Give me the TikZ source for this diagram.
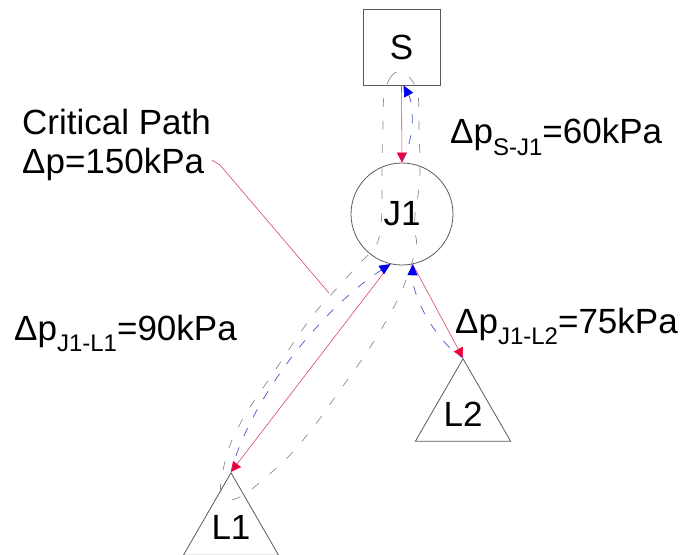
\documentclass[tikz,border=0pt]{standalone}
\usepackage{fontspec}
\setmainfont{Liberation Sans}
\usetikzlibrary{arrows.meta,shapes.geometric,calc}
\definecolor{redline}{RGB}{215,70,100}
\definecolor{redtip}{RGB}{240,0,60}
\definecolor{bluetip}{RGB}{0,0,235}
\definecolor{bluedash}{RGB}{80,80,200}
\definecolor{graydash}{RGB}{140,140,140}
\definecolor{outline}{RGB}{90,90,90}
\newcommand{\sbs}[2]{\raisebox{#1}{\fontsize{24}{24}\selectfont #2}}
\begin{document}
\begin{tikzpicture}[x=1pt,y=-1pt,
  every node/.style={font=\fontsize{35}{40}\selectfont},
  box/.style={draw=outline,line width=0.8pt,minimum width=77pt,minimum height=76pt,inner sep=0pt},
  junction/.style={draw=outline,circle,line width=0.8pt,minimum size=102pt,inner sep=0pt},
  load/.style={draw=outline,regular polygon,regular polygon sides=3,minimum size=101.6pt,inner sep=0pt,line width=0.8pt},
  pipe/.style={draw=redline,line width=0.6pt,-{Triangle[length=10pt,width=10pt,color=redtip,fill=redtip]}},
  ret/.style={draw=bluedash,line width=0.7pt,dash pattern=on 9pt off 12pt,dash phase=4pt,-{Triangle[length=11pt,width=10pt,color=bluetip,fill=bluetip]}},
  outlinepath/.style={draw=graydash,line width=0.7pt,dash pattern=on 9pt off 14pt},
  leader/.style={draw=redline,line width=0.6pt},
  lbl/.style={anchor=base west,inner sep=0pt},
]
\useasboundingbox (0,0) rectangle (684,554);

% nodes
\node[box] (S) at (401.5,47) {S};
\node[junction] (J1) at (402,214) {J1};
\node[load] (L1) at (231,527.8) {L1};
\node[load] (L2) at (463,413.8) {L2};

% labels
\node[lbl] (cpt) at (22,134) {Critical Path};
\node[lbl] (cpv) at (22,173) {Δp=150kPa};
\node[lbl] (dsj) at (450,143) {Δp\sbs{-12pt}{S-J1}=60kPa};
\node[lbl] (djl2) at (455,333) {Δp\sbs{-11pt}{J1-L2}=75kPa};
\node[lbl] (djl1) at (14,340) {Δp\sbs{-11pt}{J1-L1}=90kPa};

% critical path outline
\draw[outlinepath] plot[smooth cycle, tension=0.55] coordinates {
  (384,95) (390,78) (398,72) (410,78) (418,95)
  (419,130) (420,165) (419,188) (415,215) (415,232) (416,248)
  (403,288) (385,323) (365,355) (338,393) (315,425) (290,455)
  (265,478) (245,494) (230,500) (221,493) (222,475) (230,445)
  (245,415) (263,388) (282,360) (300,333) (318,309) (340,285)
  (360,263) (376,246) (381,225) (382,195) (382,160) (383,125)};

% leader of the critical path label
\coordinate (lead0) at (212,160);
\coordinate (lead1) at (220,165);
\coordinate (lead2) at (329,293);
\draw[leader] (lead0) -- (lead1) -- (lead2);

% pipes (red)
\draw[pipe] (S.south) -- (J1.north);
\draw[pipe] (J1.257) -- (L1.corner 1);
\draw[pipe] (J1.282) -- (L2.corner 1);

% return flows (blue)
\coordinate (rs) at ($(J1.north)+(0,-3)$);
\draw[ret] (rs) .. controls (415,140) and (414,105) .. ($(S.south)+(2,0)$);
\draw[ret] (L1.corner 1) .. controls (250,400) and (320,310) .. (J1.257);
\draw[ret] (L2.corner 1) .. controls (440,345) and (412,300) .. (J1.282);
\end{tikzpicture}
\end{document}
